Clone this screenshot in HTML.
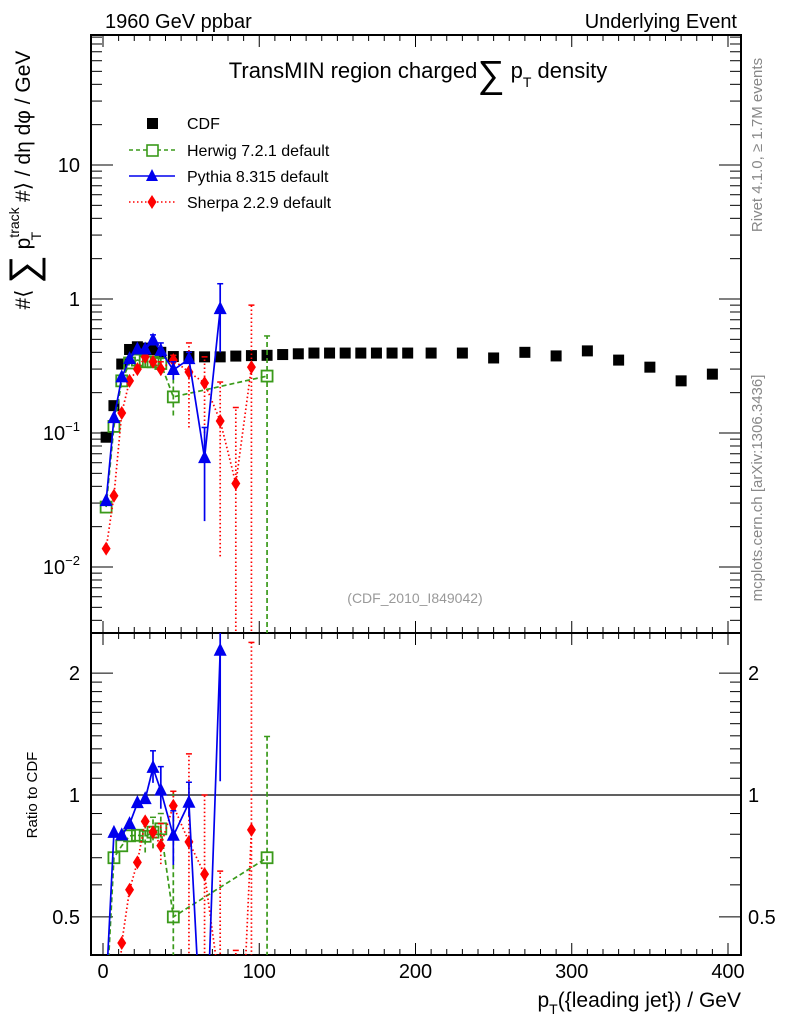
<!DOCTYPE html>
<html><head><meta charset="utf-8"><style>
html,body{margin:0;padding:0;background:#fff;width:786px;height:1024px;overflow:hidden;position:relative;}
svg{display:block;position:absolute;left:0;top:0;font-family:"Liberation Sans",sans-serif;}
</style></head><body><svg id="c" width="786" height="1024" viewBox="0 0 786 1024" xmlns="http://www.w3.org/2000/svg">
<defs>
<clipPath id="cm"><rect x="91" y="35" width="650" height="598"/></clipPath>
<clipPath id="cr"><rect x="91" y="633" width="650" height="322"/></clipPath>
</defs>
<text x="105" y="28" font-size="20">1960 GeV ppbar</text>
<text x="737" y="28" font-size="20" text-anchor="end">Underlying Event</text>
<text x="418" y="78" font-size="22" text-anchor="middle">TransMIN region charged<tspan font-size="38" dy="9">∑</tspan><tspan dy="-9"> p</tspan><tspan font-size="14" dy="9">T</tspan><tspan dy="-9"> density</tspan></text>
<text x="415" y="603" font-size="14" fill="#999" text-anchor="middle">(CDF_2010_I849042)</text>
<text transform="translate(762,145) rotate(-90)" font-size="15" fill="#888" text-anchor="middle">Rivet 4.1.0, ≥ 1.7M events</text>
<text transform="translate(762,488) rotate(-90)" font-size="15" fill="#888" text-anchor="middle">mcplots.cern.ch [arXiv:1306.3436]</text>
<text transform="translate(30,180) rotate(-90)" font-size="21" text-anchor="middle">#⟨ <tspan font-size="40" dy="7">∑</tspan><tspan dy="-7"> p</tspan><tspan font-size="14" dy="-11">track</tspan><tspan font-size="14" dx="-33" dy="22">T</tspan><tspan dx="24" dy="-11"> #⟩ / dη dφ / GeV</tspan></text>
<text transform="translate(37,795) rotate(-90)" font-size="15" text-anchor="middle">Ratio to CDF</text>
<text x="741" y="1007" font-size="21" text-anchor="end">p<tspan font-size="14" dy="7">T</tspan><tspan dy="-7">({leading jet}) / GeV</tspan></text>
<g id="legend">
<g><rect x="147" y="118" width="11" height="11" fill="#000"/><text x="187" y="129" font-size="16">CDF</text></g>
<g><line x1="129" y1="150" x2="175" y2="150" stroke="#3a9a1a" stroke-width="1.5" stroke-dasharray="4,3"/><rect x="147" y="145" width="11" height="11" fill="#fff" stroke="#3a9a1a" stroke-width="1.6"/><text x="187" y="156" font-size="16">Herwig 7.2.1 default</text></g>
<g><line x1="129" y1="176" x2="175" y2="176" stroke="#0000ee" stroke-width="1.5"/><polygon points="152,169 158,181 146,181" fill="#0000ee"/><text x="187" y="182" font-size="16">Pythia 8.315 default</text></g>
<g><line x1="129" y1="202" x2="175" y2="202" stroke="#ff0000" stroke-width="1.5" stroke-dasharray="1.5,2.5"/><polygon points="152,195 156.5,202 152,209 147.5,202" fill="#ff0000"/><text x="187" y="208" font-size="16">Sherpa 2.2.9 default</text></g>
</g>
</svg><script>
const ptCDF=[2,7,12,17,22,27,32,37,45,55,65,75,85,95,105,115,125,135,145,155,165,175,185,195,210,230,250,270,290,310,330,350,370,390];
const valCDF=[0.093,0.16,0.327,0.42,0.44,0.43,0.42,0.40,0.372,0.372,0.37,0.37,0.375,0.378,0.38,0.385,0.39,0.395,0.395,0.395,0.395,0.395,0.395,0.395,0.395,0.395,0.363,0.40,0.376,0.41,0.35,0.31,0.245,0.275];
const ptMC=[2,7,12,17,22,27,32,37,45,55,65,75,85,95,105];
const valHerwig=[0.028,0.112,0.245,0.333,0.35,0.34,0.34,0.33,0.186,null,null,null,null,null,0.266];
const loHerwig=[null,null,null,null,null,0.31,0.31,0.30,0.135,null,null,null,null,null,0.0001];
const hiHerwig=[null,null,null,null,null,0.37,0.37,0.36,0.38,null,null,null,null,null,0.53];
const valPythia=[0.031,0.129,0.26,0.356,0.42,0.42,0.49,0.41,0.295,0.356,0.065,0.84,null,null,null];
const loPythia=[null,null,null,null,null,null,0.45,0.37,0.25,0.33,0.022,0.40,null,null,null];
const hiPythia=[null,null,null,null,null,null,0.54,0.47,0.34,0.40,0.11,1.3,null,null,null];
const valSherpa=[0.0137,0.034,0.141,0.245,0.30,0.37,0.34,0.30,0.35,0.285,0.236,0.123,0.042,0.31,null];
const loSherpa=[null,null,null,null,null,null,null,0.27,0.32,0.11,0.10,0.012,0.0001,0.0001,null];
const hiSherpa=[null,null,null,null,null,null,null,0.34,0.38,0.47,0.37,0.24,0.155,0.9,null];
const xTicks=[0,100,200,300,400];
const mainTickLabels=[["10",1,""],["1",0,""],["10",-1,"−1"],["10",-2,"−2"]];
const ratioTickLabels=["0.5","1","2"];

const NS="http://www.w3.org/2000/svg";
const svg=document.getElementById('c');
function X(p){return 103+1.5625*p;}
function YM(v){return 299-134*Math.log10(v);}
function YR(v){return 795-405*Math.log10(v);}
function mk(tag,at,parent){const e=document.createElementNS(NS,tag);for(const k in at)e.setAttribute(k,at[k]);(parent||svg).appendChild(e);return e;}

const fm=mk('rect',{x:91,y:35,width:650,height:598,fill:'none',stroke:'#000','stroke-width':2});


const fr=mk('rect',{x:91,y:633,width:650,height:322,fill:'none',stroke:'#000','stroke-width':2});



const xt=mk('g',{stroke:'#000','stroke-width':1});


for(let p=-10;p<=410;p+=10){const x=X(p);if(x<92||x>740)continue;const L=(p%100===0)?12:6;
 mk('line',{x1:x,y1:35,x2:x,y2:35+L},xt);mk('line',{x1:x,y1:633,x2:x,y2:633-L},xt);
 mk('line',{x1:x,y1:633,x2:x,y2:633+L},xt);mk('line',{x1:x,y1:955,x2:x,y2:955-L},xt);}
xTicks.forEach(p=>{const t=mk('text',{x:X(p),y:978,'font-size':20,'text-anchor':'middle'});t.textContent=String(p);

});

const yt=mk('g',{stroke:'#000','stroke-width':1});


for(let d=-3;d<=1;d++){for(let m=1;m<10;m++){const y=YM(m*Math.pow(10,d));if(y<36||y>632)continue;const L=m===1?22:11;
 mk('line',{x1:91,y1:y,x2:91+L,y2:y},yt);mk('line',{x1:741,y1:y,x2:741-L,y2:y},yt);}}
mainTickLabels.forEach(a=>{const t=mk('text',{x:80,y:YM(Math.pow(10,a[1]))+7,'font-size':20,'text-anchor':'end'});
 t.textContent=a[0];if(a[2]){const s=document.createElementNS(NS,'tspan');s.setAttribute('font-size','13');s.setAttribute('dy','-9');s.textContent=a[2];t.appendChild(s);}
 
 });
for(let v=0.4;v<=2.5;v+= (v<2?0.1:0.5)){const vv=Math.round(v*10)/10;const y=YR(vv);if(y<634||y>954)continue;
 const L=(vv===0.5||vv===1||vv===2)?22:11;mk('line',{x1:91,y1:y,x2:91+L,y2:y},yt);mk('line',{x1:741,y1:y,x2:741-L,y2:y},yt);}
ratioTickLabels.forEach(s=>{const v=parseFloat(s);
 const t=mk('text',{x:80,y:YR(v)+7,'font-size':20,'text-anchor':'end'});t.textContent=s;
 
 
 const t2=mk('text',{x:748,y:YR(v)+7,'font-size':20});t2.textContent=s;
 
 });
const one=mk('line',{x1:91,y1:YR(1),x2:741,y2:YR(1),stroke:'#000','stroke-width':1.2});



const gm=mk('g',{'clip-path':'url(#cm)'});


const gr=mk('g',{'clip-path':'url(#cr)'});



function marker(kind,x,y,col,parent){
 let e;
 if(kind==='sq') e=mk('rect',{x:x-5.5,y:y-5.5,width:11,height:11,fill:'#000'},parent);
 else if(kind==='osq') e=mk('rect',{x:x-5.5,y:y-5.5,width:11,height:11,fill:'none',stroke:col,'stroke-width':1.8},parent);
 else if(kind==='tri') e=mk('polygon',{points:`${x},${y-8} ${x+6.5},${y+5} ${x-6.5},${y+5}`,fill:col},parent);
 else e=mk('polygon',{points:`${x},${y-7} ${x+4.5},${y} ${x},${y+7} ${x-4.5},${y}`,fill:col},parent);
 return e;}

function series(name,vals,lo,hi,col,dash,kind){
 [[gm,YM,1],[gr,YR,0]].forEach(([g,Y,isMain])=>{
  const grp=mk('g',{},g);
  
  
  const pts=[];
  vals.forEach((v,i)=>{if(v==null)return;const r=isMain?v:v/valCDF[ptCDF.indexOf(ptMC[i])];pts.push([X(ptMC[i]),Y(Math.max(r,1e-6))]);});
  const pl=mk('polyline',{points:pts.map(p=>p.join(',')).join(' '),fill:'none',stroke:col,'stroke-width':1.7,'stroke-dasharray':dash},grp);
  
  
  vals.forEach((v,i)=>{if(v==null)return;const c=isMain?1:valCDF[ptCDF.indexOf(ptMC[i])];const x=X(ptMC[i]);
   if(lo[i]!=null){const eb=mk('line',{x1:x,y1:Y(lo[i]/c),x2:x,y2:Y(hi[i]/c),stroke:col,'stroke-width':1.7,'stroke-dasharray':dash},grp);
    
    
    mk('line',{x1:x-3,y1:Y(hi[i]/c),x2:x+3,y2:Y(hi[i]/c),stroke:col,'stroke-width':1.5},grp);}
   const m=marker(kind,x,Y(Math.max(v/c,1e-6)),col,grp);
   
   });
 });}

const gc=mk('g',{},gm);


ptCDF.forEach((p,i)=>{const m=marker('sq',X(p),YM(valCDF[i]),'#000',gc);
 
 });
series('herwig',valHerwig,loHerwig,hiHerwig,'#3a9a1a','5,3','osq');
series('sherpa',valSherpa,loSherpa,hiSherpa,'#ff0000','1.5,2.5','dia');
series('pythia',valPythia,loPythia,hiPythia,'#0000ee','none','tri');
</script></body></html>
